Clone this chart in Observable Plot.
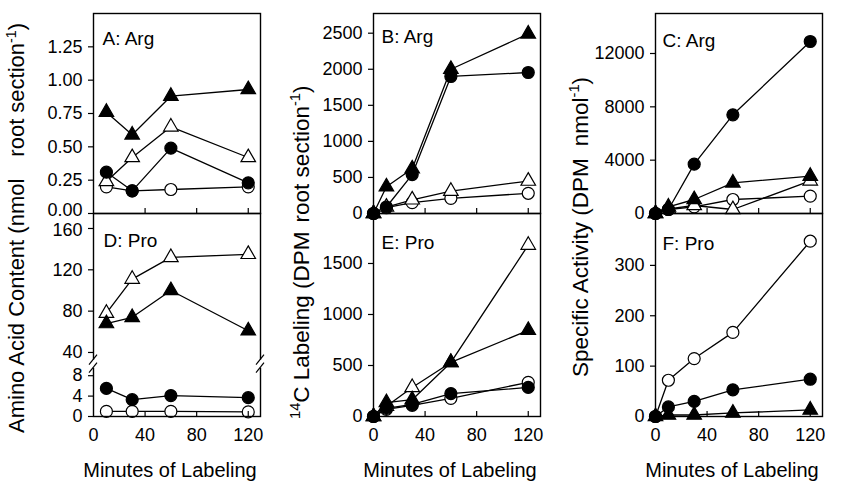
<!DOCTYPE html>
<html><head><meta charset="utf-8">
<script src="https://cdn.jsdelivr.net/npm/d3@7"></script>
<script src="https://cdn.jsdelivr.net/npm/@observablehq/plot@0.6"></script>
<style>
body{margin:0;background:#fff;}
#chart{position:relative;width:849px;height:486px;overflow:hidden;background:#fff;}
</style></head><body><div id="chart"></div>
<script>
const FONT = '"Liberation Sans", Arial, Helvetica, sans-serif';

// ---- data ----
const timesContent = [10, 30, 60, 120];
const timesLabeling = [0, 10, 30, 60, 120];
const xTickValues = [0, 40, 80, 120];
const innerTickValues = [40, 80, 120];

// A: Arg content (nmol per root section)
const aOpenCircle = [0.20, 0.17, 0.18, 0.20];
const aOpenTriangle = [0.24, 0.42, 0.65, 0.42];
const aFilledTriangle = [0.76, 0.59, 0.88, 0.93];
const aFilledCircle = [0.31, 0.17, 0.49, 0.23];
const aTicks = [0, 0.25, 0.5, 0.75, 1.0, 1.25];

// D: Pro content (broken axis)
const dOpenCircle = [1.0, 1.0, 1.0, 0.9];
const dOpenTriangle = [78, 111, 132, 135];
const dFilledTriangle = [68, 74, 100, 61];
const dFilledCircle = [5.5, 3.3, 4.1, 3.7];
const dTicks = [0, 4, 8, 40, 80, 120, 160];

// B: Arg 14C labeling (DPM per root section)
const bOpenCircle = [0, 80, 150, 210, 280];
const bOpenTriangle = [0, 90, 190, 310, 450];
const bFilledTriangle = [0, 370, 620, 2000, 2490];
const bFilledCircle = [0, 90, 540, 1900, 1955];
const bTicks = [0, 500, 1000, 1500, 2000, 2500];

// E: Pro 14C labeling
const eOpenCircle = [0, 70, 110, 178, 335];
const eOpenTriangle = [0, 100, 285, 530, 1680];
const eFilledTriangle = [0, 137, 165, 530, 845];
const eFilledCircle = [0, 80, 118, 225, 285];
const eTicks = [0, 500, 1000, 1500];

// C: Arg specific activity (DPM per nmol)
const cOpenCircle = [0, 300, 500, 1050, 1300];
const cOpenTriangle = [0, 350, 600, 300, 2450];
const cFilledTriangle = [0, 500, 1050, 2300, 2800];
const cFilledCircle = [0, 300, 3700, 7400, 12900];
const cTicks = [0, 4000, 8000, 12000];

// F: Pro specific activity
const fOpenCircle = [0, 72, 115, 167, 348];
const fFilledTriangle = [0, 3, 3, 7, 13];
const fFilledCircle = [0, 19, 30, 53, 74];
const fTicks = [0, 100, 200, 300];

const xTitle = "Minutes of Labeling";
const yTitleA = [{text: "Amino Acid Content (nmol"}, {text: "root section", dx: 22}, {text: "-1", sup: true}, {text: ")"}];
const yTitleB = [{text: "14", sup: true}, {text: "C Labeling (DPM"}, {text: "root section", dx: 9}, {text: "-1", sup: true}, {text: ")"}];
const yTitleC = [{text: "Specific Activity (DPM"}, {text: "nmol", dx: 12}, {text: "-1", sup: true}, {text: ")"}];

// ---- drawing ----
const chart = document.getElementById("chart");
const markerStyle = {
  openCircle: {symbol: "circle", fill: "white", r: 6},
  openTriangle: {symbol: "triangle", fill: "white", r: 5.4},
  filledTriangle: {symbol: "triangle", fill: "black", r: 5.4},
  filledCircle: {symbol: "circle", fill: "black", r: 6}
};
const drawOrder = ["openCircle", "openTriangle", "filledTriangle", "filledCircle"];

function breakMark(v) {
  return (index, scales, values, dims) => {
    const g = d3.create("svg:g");
    const y = scales.y(v);
    for (const x of [dims.marginLeft, dims.width - dims.marginRight]) {
      g.append("rect").attr("x", x - 3).attr("y", y - 4).attr("width", 6).attr("height", 8).attr("fill", "white");
      for (const o of [-4, 4]) {
        g.append("line").attr("x1", x - 4).attr("y1", y + o + 5).attr("x2", x + 4).attr("y2", y + o - 5)
          .attr("stroke", "black").attr("stroke-width", 1.2);
      }
    }
    return g.node();
  };
}

function panel(o) {
  const mL = 64, mR = 8, mT = 8, mB = o.bottomAxis ? 44 : 8;
  const W = 167, H = o.H;
  const rows = [];
  for (const [k, vals] of Object.entries(o.series)) vals.forEach((v, i) => rows.push({t: o.times[i], v, s: k}));
  const y = o.yRange ? {type: "linear", domain: o.yDomain, range: o.yRange(mT, H)} : {type: "linear", domain: o.yDomain};
  const nudged = o.nudge || new Map();
  const marks = [
    Plot.line(rows, {x: "t", y: "v", z: "s", stroke: "black", strokeWidth: 1.3}),
    ...drawOrder.filter(k => o.series[k]).map(k => Plot.dot(rows.filter(d => d.s === k), {
      x: "t", y: "v", symbol: markerStyle[k].symbol, r: markerStyle[k].r,
      fill: markerStyle[k].fill, stroke: "black", strokeWidth: 1.2
    })),
    Plot.frame({stroke: "black", strokeWidth: 1.4}),
    Plot.tickX(innerTickValues, {x: d => d, insetTop: H - 5, stroke: "black", strokeWidth: 1.2}),
    Plot.axisY({ticks: o.yTicks, tickFormat: d => nudged.has(d) ? "" : o.yFormat(d), tickSize: 5, tickPadding: 6, fontSize: 18, label: null, strokeWidth: 1.2}),
    ...[...nudged].map(([v, dy]) => Plot.axisY({ticks: [v], tickFormat: o.yFormat, tickSize: 0, tickPadding: 11, fontSize: 18, label: null, dy})),
    Plot.text([o.label], {text: d => d, frameAnchor: "top-left", lineAnchor: "top", dx: o.labelDx, dy: o.labelDy, fontSize: 19, fill: "black"})
  ];
  if (o.bottomAxis) marks.push(Plot.axisX({ticks: xTickValues, tickSize: 0, tickPadding: 12, fontSize: 18, label: null}));
  if (o.breakAt != null) marks.push(breakMark(o.breakAt));
  const p = Plot.plot({
    width: mL + W + mR, height: mT + H + mB,
    marginLeft: mL, marginRight: mR, marginTop: mT, marginBottom: mB,
    x: {domain: [0, 129.5], axis: o.bottomAxis ? undefined : null},
    y,
    style: {fontFamily: FONT, background: "none", overflow: "visible", color: "black"},
    marks
  });
  p.style.position = "absolute";
  p.style.left = (o.left - mL) + "px";
  p.style.top = (o.top - mT) + "px";
  chart.append(p);
}

const fmt2 = d3.format(".2f"), fmtInt = d3.format("d");
const colLeft = [93, 373, 655];
const rowTop = [13, 213];
const rowH = [200, 203];

panel({label: "A: Arg", times: timesContent, series: {openCircle: aOpenCircle, openTriangle: aOpenTriangle, filledTriangle: aFilledTriangle, filledCircle: aFilledCircle},
  yDomain: [0, 1.5], yTicks: aTicks, yFormat: fmt2, nudge: new Map([[0, -3]]), left: colLeft[0], top: rowTop[0], H: rowH[0], labelDx: 9, labelDy: 18});
panel({label: "B: Arg", times: timesLabeling, series: {openCircle: bOpenCircle, openTriangle: bOpenTriangle, filledTriangle: bFilledTriangle, filledCircle: bFilledCircle},
  yDomain: [0, 2773], yTicks: bTicks, yFormat: fmtInt, left: colLeft[1], top: rowTop[0], H: rowH[0], labelDx: 8, labelDy: 16});
panel({label: "C: Arg", times: timesLabeling, series: {openCircle: cOpenCircle, openTriangle: cOpenTriangle, filledTriangle: cFilledTriangle, filledCircle: cFilledCircle},
  yDomain: [0, 15000], yTicks: cTicks, yFormat: fmtInt, left: colLeft[2], top: rowTop[0], H: rowH[0], labelDx: 7, labelDy: 20});
panel({label: "D: Pro", times: timesContent, series: {openCircle: dOpenCircle, openTriangle: dOpenTriangle, filledTriangle: dFilledTriangle, filledCircle: dFilledCircle},
  yDomain: [0, 10, 30, 174.5], yRange: (mT, H) => [mT + H, mT + H - 51, mT + 149.3, mT], breakAt: 20, nudge: new Map([[160, 2]]),
  yTicks: dTicks, yFormat: fmtInt, left: colLeft[0], top: rowTop[1], H: rowH[1], bottomAxis: true, labelDx: 10, labelDy: 20});
panel({label: "E: Pro", times: timesLabeling, series: {openCircle: eOpenCircle, openTriangle: eOpenTriangle, filledTriangle: eFilledTriangle, filledCircle: eFilledCircle},
  yDomain: [0, 1990], yTicks: eTicks, yFormat: fmtInt, left: colLeft[1], top: rowTop[1], H: rowH[1], bottomAxis: true, labelDx: 8, labelDy: 22});
panel({label: "F: Pro", times: timesLabeling, series: {openCircle: fOpenCircle, filledTriangle: fFilledTriangle, filledCircle: fFilledCircle},
  yDomain: [0, 403], yTicks: fTicks, yFormat: fmtInt, left: colLeft[2], top: rowTop[1], H: rowH[1], bottomAxis: true, labelDx: 7, labelDy: 23});

// titles overlay
const svg = d3.select(chart).append("svg").attr("width", 849).attr("height", 486)
  .style("position", "absolute").style("left", "0px").style("top", "0px")
  .attr("font-family", FONT).attr("fill", "black");

function yTitle(x, y, size, parts) {
  const t = svg.append("text").attr("transform", `translate(${x},${y}) rotate(-90)`).attr("font-size", size);
  let supOn = false;
  for (const p of parts) {
    const ts = t.append("tspan").text(p.text);
    if (p.dx) ts.attr("dx", p.dx);
    if (p.sup) { ts.attr("font-size", size * 0.65); if (!supOn) ts.attr("dy", -size * 0.38); supOn = true; }
    else if (supOn) { ts.attr("dy", size * 0.38); supOn = false; }
  }
}
yTitle(24, 433, 22, yTitleA);
yTitle(309, 419, 22.5, yTitleB);
yTitle(588, 377, 22.5, yTitleC);

for (const cx of [170, 450, 732]) {
  svg.append("text").attr("x", cx).attr("y", 477).attr("text-anchor", "middle").attr("font-size", 20).text(xTitle);
}
</script></body></html>
